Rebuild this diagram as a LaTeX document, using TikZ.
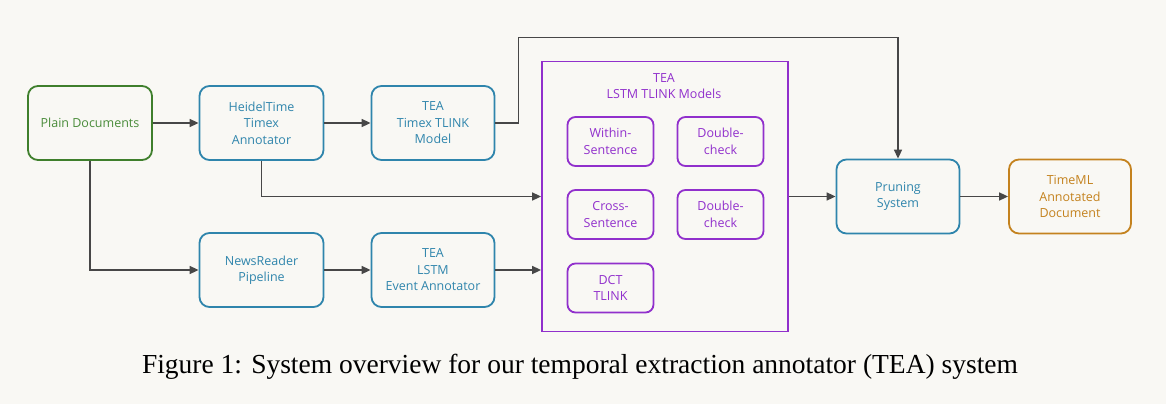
\documentclass[tikz,border=0pt]{standalone}
\usepackage{fontspec}
\setmainfont{Liberation Serif}
\newfontfamily\boxfont{Open Sans}
\usetikzlibrary{arrows.meta}
\definecolor{bg}{HTML}{F9F8F4}
\definecolor{cgreen}{HTML}{3F7F2C}
\definecolor{cgreentext}{HTML}{4A8C3A}
\definecolor{cblue}{HTML}{2F85AC}
\definecolor{cpurple}{HTML}{9130CC}
\definecolor{corange}{HTML}{C4821E}
\definecolor{carrow}{HTML}{474747}
\begin{document}
\begin{tikzpicture}[x=1pt,y=-1pt,
  boxbase/.style={draw, rounded corners=10pt, line width=1.8pt, minimum width=124pt, minimum height=74pt, align=center, font=\boxfont\fontsize{12.5}{16.5}\selectfont},
  gbox/.style={boxbase, draw=cgreen, text=cgreentext},
  bbox/.style={boxbase, draw=cblue, text=cblue},
  obox/.style={boxbase, draw=corange, text=corange, minimum width=122pt},
  pbox/.style={boxbase, draw=cpurple, text=cpurple, rounded corners=8pt, minimum width=86pt, minimum height=49pt},
  arr/.style={draw=carrow, line width=1.6pt, -{Triangle[length=9pt,width=8pt]}}]
\fill[bg] (0,0) rectangle (1166,404);
\useasboundingbox (0,0) rectangle (1166,404);
\node[gbox] (plain) at (90,123) {Plain Documents};
\node[bbox] (heidel) at (261.5,123) {HeidelTime\\Timex\\Annotator};
\node[bbox, minimum width=123pt] (timex) at (433,123) {TEA\\Timex TLINK\\Model};
\node[bbox] (news) at (261.5,270) {NewsReader\\Pipeline};
\node[bbox, minimum width=123pt] (event) at (433,270) {TEA\\LSTM\\Event Annotator};
\node[draw=cpurple, line width=1.8pt, minimum width=246pt, minimum height=270pt] (tea) at (665,196.5) {};
\node[text=cpurple, align=center, font=\boxfont\fontsize{12.5}{16.5}\selectfont] (teatitle) at (664,86) {TEA\\LSTM TLINK Models};
\node[pbox] (within) at (610.5,141.5) {Within-\\Sentence};
\node[pbox] (dbl1) at (720.5,141.5) {Double-\\check};
\node[pbox] (cross) at (610.5,214.5) {Cross-\\Sentence};
\node[pbox] (dbl2) at (720.5,214.5) {Double-\\check};
\node[pbox] (dct) at (610.5,288) {DCT\\TLINK};
\node[bbox, minimum width=123pt] (prune) at (898,196.5) {Pruning\\System};
\node[obox] (timeml) at (1070,196.5) {TimeML\\Annotated\\Document};
\coordinate (up) at (518.5,37.5);
\draw[arr] (plain) -- (heidel);
\draw[arr] (heidel) -- (timex);
\draw[arr] (plain.south) |- (news.west);
\draw[arr] (news) -- (event);
\draw[arr] (event) -- (event -| tea.west);
\draw[arr] (heidel.south) |- (tea.west);
\draw[arr] (tea) -- (prune);
\draw[arr] (prune) -- (timeml);
\draw[arr] (timex.east) -| (up) -| (prune.north);
\node[anchor=base, inner sep=0pt] (cap) at (580,373) {\fontsize{27.5}{30}\selectfont Figure 1: System overview for our temporal extraction annotator (TEA) system};
\end{tikzpicture}
\end{document}
